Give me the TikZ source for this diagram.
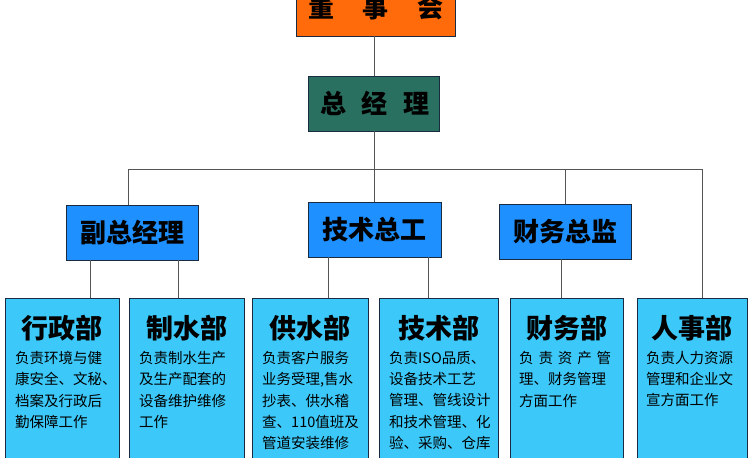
\documentclass[tikz,border=0pt]{standalone}
\usepackage{fontspec}
\newfontfamily\cjk{Noto Sans CJK SC}
\usetikzlibrary{calc}
\definecolor{boardc}{HTML}{FF6A0A}
\definecolor{gmc}{HTML}{2A7060}
\definecolor{midc}{HTML}{1E90FF}
\definecolor{depc}{HTML}{3CC8F8}
\definecolor{linec}{HTML}{555555}
\definecolor{edgec}{HTML}{1A2A40}
\begin{document}
\begin{tikzpicture}[x=1pt,y=-1pt,
  box/.style={draw=edgec,line width=0.9pt,inner sep=0pt,anchor=center},
  midbox/.style={box,fill=midc,minimum width=132pt,minimum height=55pt},
  depbox/.style={box,fill=depc,minimum width=#1,minimum height=172pt},
  htitle/.style={font=\cjk\bfseries\fontsize{26}{28}\selectfont,inner sep=0pt},
  dtitle/.style={font=\cjk\bfseries\fontsize{27}{29}\selectfont,inner sep=0pt},
  body/.style={font=\cjk\fontsize{14.5}{21.3}\selectfont,inner sep=0pt,anchor=north west,align=left},
  conn/.style={draw=linec,line width=0.9pt}]
\useasboundingbox (0,0) rectangle (750,458);
\clip (0,0) rectangle (750,458);
\fill[white] (0,0) rectangle (750,458);
% top level
\node[box,fill=boardc,minimum width=159pt,minimum height=56pt] (top) at (375.5,8) {};
\node[htitle] (toptxt) at (376,8) {董\hspace{29pt}事\hspace{29pt}会};
\node[box,fill=gmc,minimum width=131pt,minimum height=55pt] (gm) at (374,103.5) {};
\node[htitle] (gmtxt) at (375,103.5) {总\hspace{16pt}经\hspace{16pt}理};
% middle
\node[midbox] (vp) at (132,232.5) {};
\node[htitle] (vptxt) at (132,232.5) {副总经理};
\node[midbox,minimum width=133pt] (te) at (374.5,229.5) {};
\node[htitle] (tetxt) at (374.5,229.5) {技术总工};
\node[midbox] (fi) at (565,231.5) {};
\node[htitle] (fitxt) at (565,231.5) {财务总监};
% departments
\node[depbox=114pt] (d1) at (62,384) {};
\node[depbox=115pt] (d2) at (186.5,384) {};
\node[depbox=116pt] (d3) at (310,384) {};
\node[depbox=119pt] (d4) at (438.5,384) {};
\node[depbox=113pt] (d5) at (566.5,384) {};
\node[depbox=110pt] (d6) at (692,384) {};
\node[dtitle] (t1) at (62,328) {行政部};
\node[dtitle] (t2) at (186.5,328) {制水部};
\node[dtitle] (t3) at (310,328) {供水部};
\node[dtitle] (t4) at (438.5,328) {技术部};
\node[dtitle] (t5) at (566.5,328) {财务部};
\node[dtitle] (t6) at (692,328) {人事部};
\node[body] (b1) at (15,351) {负责环境与健\\康安全、文秘、\\档案及行政后\\勤保障工作};
\node[body] (b2) at (139,351) {负责制水生产\\及生产配套的\\设备维护维修\\工作};
\node[body] (b3) at (262,351) {负责客户服务\\业务受理,售水\\抄表、供水稽\\查、110值班及\\管道安装维修};
\node[body] (b4) at (389,351) {负责ISO品质、\\设备技术工艺\\管理、管线设计\\和技术管理、化\\验、采购、仓库};
\node[body] (b5) at (519,351) {\makebox[92pt][s]{负\hfill 责\hfill 资\hfill 产\hfill 管}\\理、财务管理\\方面工作};
\node[body] (b6) at (646,351) {负责人力资源\\管理和企业文\\宣方面工作};
% connectors
\coordinate (busL) at (128,169);
\coordinate (busR) at (702,169);
\draw[conn] (gm.north) -- (gm.north |- top.south);
\draw[conn] (gm.south) -- (gm.south |- busL);
\draw[conn] (busL) -- (busR);
\draw[conn] (busL) -- (busL |- vp.north);
\draw[conn] (te.north) -- (te.north |- busL);
\draw[conn] (fi.north) -- (fi.north |- busL);
\draw[conn] (busR) -- (busR |- d6.north);
\coordinate (p1) at ($(vp.south)+(-42,0)$);
\coordinate (p2) at ($(vp.south)+(46,0)$);
\coordinate (p3) at ($(te.south)+(-46.5,0)$);
\coordinate (p4) at ($(te.south)+(53.5,0)$);
\coordinate (p5) at ($(fi.south)+(-4,0)$);
\draw[conn] (p1) -- (p1 |- d1.north);
\draw[conn] (p2) -- (p2 |- d2.north);
\draw[conn] (p3) -- (p3 |- d3.north);
\draw[conn] (p4) -- (p4 |- d4.north);
\draw[conn] (p5) -- (p5 |- d5.north);
\end{tikzpicture}
\end{document}
